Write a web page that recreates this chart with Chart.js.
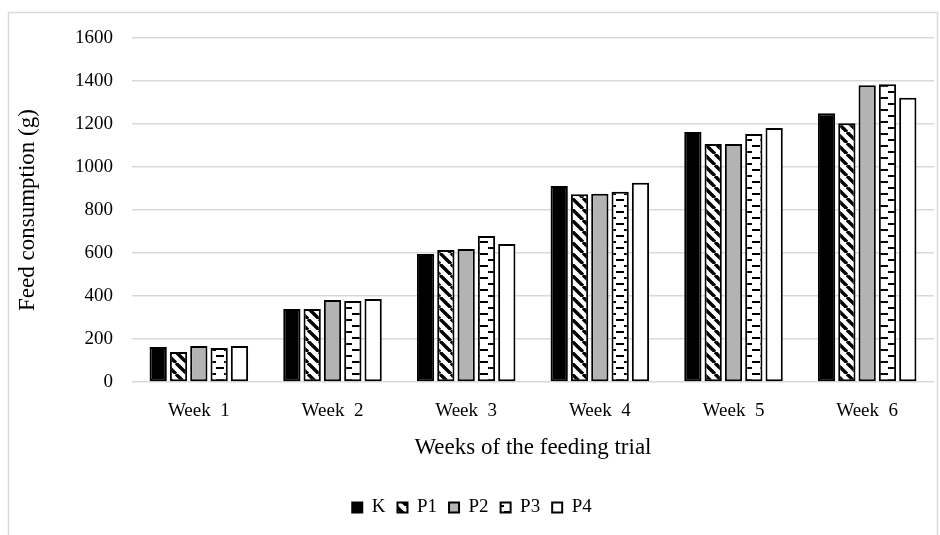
<!DOCTYPE html>
<html>
<head>
<meta charset="utf-8">
<script src="https://cdn.jsdelivr.net/npm/chart.js@4.4.1/dist/chart.umd.min.js"></script>
<style>
  body { margin: 0; background: #ffffff; }
  #wrap { position: relative; width: 940px; height: 535px; }
</style>
</head>
<body>
<div id="wrap"><canvas id="feedChart" width="940" height="535"></canvas></div>
<script>
// Data
const weeks = ['Week  1', 'Week  2', 'Week  3', 'Week  4', 'Week  5', 'Week  6'];
const seriesK  = [163, 340, 595, 912, 1163, 1250];
const seriesP1 = [140, 340, 614, 873, 1107, 1203];
const seriesP2 = [167, 381, 619, 876, 1107, 1380];
const seriesP3 = [158, 377, 679, 885, 1153, 1385];
const seriesP4 = [167, 386, 642, 927, 1181, 1322];
const yTicks = [0, 200, 400, 600, 800, 1000, 1200, 1400, 1600];

const FONT = '"Liberation Serif", "DejaVu Serif", serif';

// diagonal stripes, top-left to bottom-right
function makeStripes() {
    const s = 11;
    const c = document.createElement('canvas');
    c.width = s; c.height = s;
    const g = c.getContext('2d');
    g.fillStyle = '#ffffff';
    g.fillRect(0, 0, s, s);
    g.strokeStyle = '#000000';
    g.lineWidth = 3.4;
    g.beginPath();
    for (let k = -s; k <= 2 * s; k += s) {
        g.moveTo(k, 0);
        g.lineTo(k + s, s);
    }
    g.stroke();
    return g.createPattern(c, 'repeat');
}

// short horizontal dashes, staggered
function makeDashes() {
    const c = document.createElement('canvas');
    c.width = 16; c.height = 12;
    const g = c.getContext('2d');
    g.fillStyle = '#ffffff';
    g.fillRect(0, 0, 16, 12);
    g.fillStyle = '#000000';
    g.fillRect(0, 1, 8, 2);
    g.fillRect(8, 7, 8, 2);
    return g.createPattern(c, 'repeat');
}

// light gray frame round the whole chart
const framePlugin = {
    id: 'frame',
    beforeDraw(chart) {
        const ctx = chart.ctx;
        ctx.save();
        ctx.fillStyle = '#ffffff';
        ctx.fillRect(0, 0, chart.width, chart.height);
        ctx.strokeStyle = '#d9d9d9';
        ctx.lineWidth = 1.5;
        ctx.strokeRect(8.5, 12.5, 929, 530);
        ctx.restore();
    }
};

function ds(label, data, fill) {
    return {
        label: label,
        data: data,
        backgroundColor: fill,
        borderColor: '#000000',
        borderWidth: 2,
        borderSkipped: false,
        categoryPercentage: 0.76,
        barPercentage: 0.85
    };
}

const ctx = document.getElementById('feedChart').getContext('2d');
new Chart(ctx, {
    type: 'bar',
    data: {
        labels: weeks,
        datasets: [
            ds('K', seriesK, '#000000'),
            ds('P1', seriesP1, makeStripes()),
            ds('P2', seriesP2, '#b3b3b3'),
            ds('P3', seriesP3, makeDashes()),
            ds('P4', seriesP4, '#ffffff')
        ]
    },
    plugins: [framePlugin],
    options: {
        responsive: false,
        animation: false,
        layout: { padding: { left: 10, right: 6, top: 38, bottom: 8 } },
        plugins: {
            legend: {
                position: 'bottom',
                labels: {
                    color: '#000000',
                    font: { family: FONT, size: 19 },
                    boxWidth: 10,
                    boxHeight: 10,
                    padding: 12
                }
            },
            tooltip: { enabled: false }
        },
        scales: {
            x: {
                grid: { display: false },
                border: { display: false },
                ticks: { color: '#000000', font: { family: FONT, size: 19 }, padding: 10 },
                title: {
                    display: true,
                    text: 'Weeks of the feeding trial',
                    color: '#000000',
                    font: { family: FONT, size: 23 },
                    padding: { top: 8, bottom: 24 }
                },
                afterFit(scale) { scale.height = 104; }
            },
            y: {
                min: 0,
                max: 1600,
                afterBuildTicks(scale) { scale.ticks = yTicks.map(v => ({ value: v })); },
                grid: { color: '#d9d9d9', lineWidth: 1.5, drawTicks: false },
                border: { display: false },
                ticks: {
                    color: '#000000',
                    font: { family: FONT, size: 19 },
                    padding: 19,
                    callback: v => String(v)
                },
                title: {
                    display: true,
                    text: 'Feed consumption (g)',
                    color: '#000000',
                    font: { family: FONT, size: 23 },
                    padding: { bottom: 2 }
                },
                afterFit(scale) { scale.width = 122; }
            }
        }
    }
});
</script>
</body>
</html>
